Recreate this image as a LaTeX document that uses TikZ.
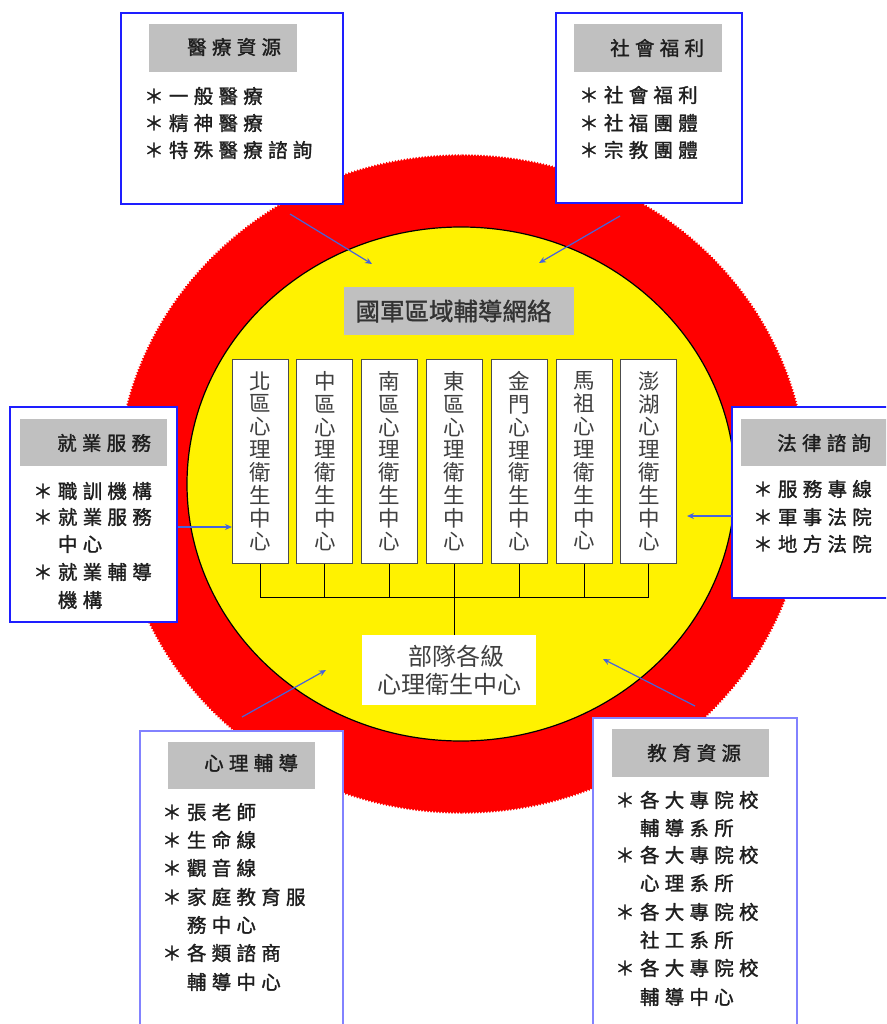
\documentclass[tikz,border=0pt]{standalone}
\usepackage{fontspec}
\setmainfont{Noto Sans CJK TC}
\newfontfamily\cjk{Noto Sans CJK TC}
\newfontfamily\cjkb{Noto Sans CJK TC}[FakeBold=1.2]
\newfontfamily\cjksp{Noto Sans CJK TC}[LetterSpace=27,FakeBold=1.4]
\usetikzlibrary{arrows.meta,decorations.pathmorphing}
\definecolor{hdrgray}{RGB}{192,192,192}
\definecolor{arrowblue}{RGB}{70,100,220}
\definecolor{boxblue}{RGB}{30,30,255}
\definecolor{boxblueb}{RGB}{130,130,255}
\definecolor{txt}{RGB}{30,30,30}
\begin{document}
\begin{tikzpicture}[x=1pt,y=-1pt,
 sidebox/.style={draw=boxblue,line width=1.4pt,fill=white,inner sep=0pt},
 sideboxb/.style={draw=boxblueb,line width=1.4pt,fill=white,inner sep=0pt},
 hdr/.style={fill=hdrgray,inner sep=0pt},
 hdrtext/.style={anchor=base west,inner sep=0pt,text=txt,font=\cjksp\fontsize{19.5}{20}\selectfont},
 item/.style={anchor=base west,inner sep=0pt,text=txt,font=\cjksp\fontsize{19.5}{20}\selectfont},
 colbox/.style={draw=black!70,line width=1pt,fill=white,minimum width=56pt,minimum height=204pt,inner sep=0pt,align=center,text=black!75,font=\cjk\fontsize{21.5}{22.9}\selectfont},
 link/.style={draw=black,line width=1pt},
 arr/.style={draw=arrowblue,line width=1.2pt,-{Stealth[length=7pt,width=6pt]}},
]
\clip (0,0) rectangle (886,1024);
\fill[white] (0,0) rectangle (886,1024);

% circles
\fill[red,decorate,decoration={zigzag,segment length=3pt,amplitude=1pt}] (462,484) ellipse [x radius=345pt,y radius=329pt];
\filldraw[fill=yellow,draw=black,line width=1.2pt] (461,484) ellipse [x radius=274pt,y radius=257pt];

% side boxes
\node[sidebox,minimum width=222pt,minimum height=191pt] (med) at (232,108.5) {};
\node[hdr,minimum width=148pt,minimum height=48pt] (medh) at (223,48) {};
\node[hdrtext] (medt) at (187,47+7.4) {醫療資源};
\foreach \t/\yy in {＊一般醫療/96,＊精神醫療/123,＊特殊醫療諮詢/150}
  \node[item] (medi\yy) at (144,\yy+7.4) {\t};

\node[sidebox,minimum width=186pt,minimum height=190pt] (soc) at (649,108) {};
\node[hdr,minimum width=148pt,minimum height=48pt] (soch) at (648,48) {};
\node[hdrtext] (soct) at (610,48+7.4) {社會福利};
\foreach \t/\yy in {＊社會福利/95,＊社福團體/123,＊宗教團體/150}
  \node[item] (soci\yy) at (579,\yy+7.4) {\t};

\node[sidebox,minimum width=167pt,minimum height=215pt] (job) at (93.5,514.5) {};
\node[hdr,minimum width=147pt,minimum height=47pt] (jobh) at (93.5,442.5) {};
\node[hdrtext] (jobt) at (57,443+7.4) {就業服務};
\foreach \t/\yy in {＊職訓機構/491,＊就業服務/517,　中心/544,＊就業輔導/572,　機構/600}
  \node[item] (jobi\yy) at (33,\yy+7.4) {\t};

\node[sidebox,minimum width=168pt,minimum height=191pt] (law) at (816,502.5) {};
\node[hdr,minimum width=150pt,minimum height=47pt] (lawh) at (816,442.5) {};
\node[hdrtext] (lawt) at (777,443+7.4) {法律諮詢};
\foreach \t/\yy in {＊服務專線/489,＊軍事法院/517,＊地方法院/544}
  \node[item] (lawi\yy) at (753,\yy+7.4) {\t};

\node[sideboxb,minimum width=203pt,minimum height=309pt] (psy) at (241.5,885.5) {};
\node[hdr,minimum width=147pt,minimum height=47pt] (psyh) at (241.5,765.5) {};
\node[hdrtext] (psyt) at (204,763+7.4) {心理輔導};
\foreach \t/\yy in {＊張老師/812,＊生命線/840,＊觀音線/868,＊家庭教育服/897,　務中心/925,＊各類諮商/953,　輔導中心/982}
  \node[item] (psyi\yy) at (162,\yy+7.4) {\t};

\node[sideboxb,minimum width=204pt,minimum height=322pt] (edu) at (695,879) {};
\node[hdr,minimum width=157pt,minimum height=48pt] (eduh) at (690.5,753) {};
\node[hdrtext] (edut) at (647,753+7.4) {教育資源};
\foreach \t/\yy in {＊各大專院校/800,　輔導系所/828,＊各大專院校/855,　心理系所/883,＊各大專院校/912,　社工系所/940,＊各大專院校/968,　輔導中心/997}
  \node[item] (edui\yy) at (615,\yy+7.4) {\t};

% central network
\node[hdr,minimum width=230pt,minimum height=48pt] (title) at (459,311) {};
\node[inner sep=0pt,text=black!80,font=\cjkb\fontsize{24.5}{25}\selectfont] (titlet) at (453.5,311) {國軍區域輔導網絡};

\foreach \a/\b [count=\i] in {北/區,中/區,南/區,東/區,金/門,馬/祖,澎/湖}
  \node[colbox] (c\i) at ({260+64.8*(\i-1)},461) {\a\\\b\\心\\理\\衛\\生\\中\\心};

\node[fill=white,minimum width=174pt,minimum height=70pt,inner sep=0pt,align=center,text=black!75,font=\cjk\fontsize{24}{28}\selectfont] (unit) at (449,670) {\hspace*{14pt}部隊各級\\心理衛生中心};

\coordinate (bus) at (c4.south |- 0,597);
\foreach \i in {1,2,3,5,6,7}
  \draw[link] (c\i.south) -- (c\i.south |- bus);
\draw[link] (c1.south |- bus) -- (c7.south |- bus);
\draw[link] (c4.south) -- (c4.south |- unit.north);

% arrows
\coordinate (a1s) at (290,214); \coordinate (a1e) at (372,264);
\coordinate (a2s) at (620,216); \coordinate (a2e) at (539,263);
\coordinate (a3s) at (178,527); \coordinate (a3e) at (232,527);
\coordinate (a4s) at (732,516); \coordinate (a4e) at (687,516);
\coordinate (a5s) at (242,717); \coordinate (a5e) at (326,670);
\coordinate (a6s) at (695,706); \coordinate (a6e) at (603,659);
\foreach \k in {1,...,6} \draw[arr] (a\k s) -- (a\k e);
\end{tikzpicture}
\end{document}
